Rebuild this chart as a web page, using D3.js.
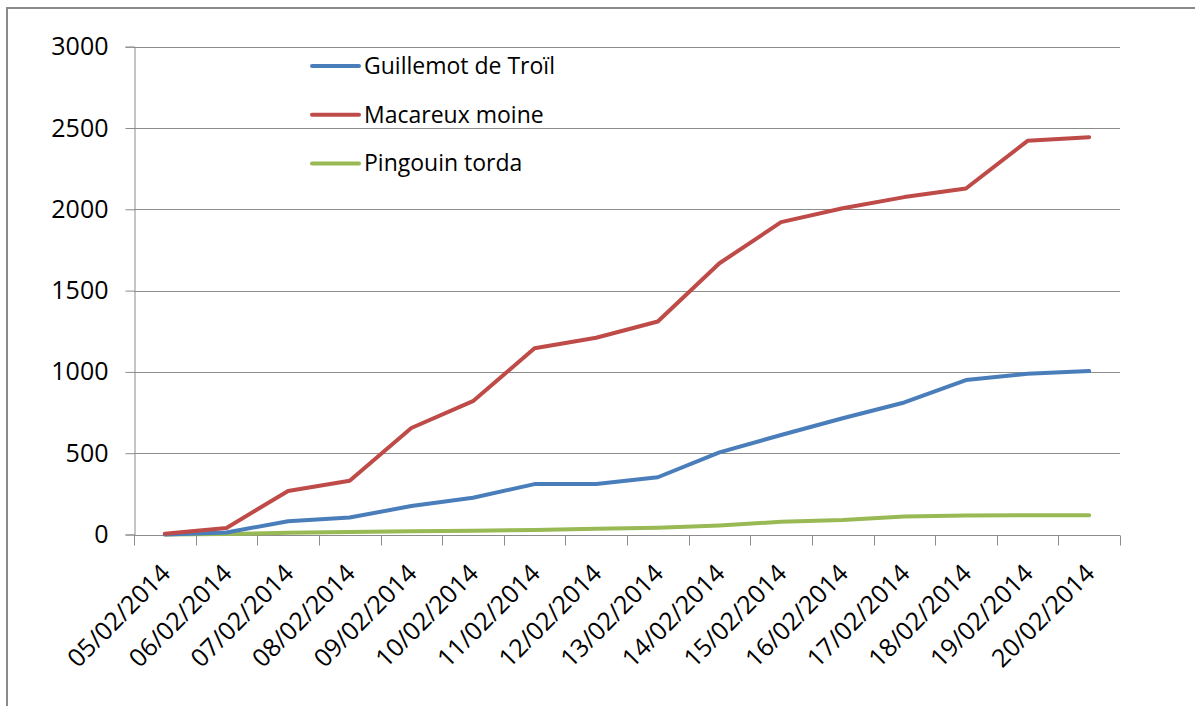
<!DOCTYPE html>
<html>
<head>
<meta charset="utf-8">
<script src="https://cdn.jsdelivr.net/npm/d3@7"></script>
<style>
  html, body { margin: 0; padding: 0; background: #fff; overflow: hidden; }
  svg { display: block; font-family: "Open Sans", sans-serif; }
</style>
</head>
<body>
<svg id="chart" width="1195" height="706"></svg>
<script>
const dates = ["05/02/2014","06/02/2014","07/02/2014","08/02/2014","09/02/2014","10/02/2014","11/02/2014","12/02/2014","13/02/2014","14/02/2014","15/02/2014","16/02/2014","17/02/2014","18/02/2014","19/02/2014","20/02/2014"];
const guillemot = [0, 12, 82, 104, 175, 226, 310, 310, 352, 505, 612, 715, 812, 950, 988, 1005];
const macareux = [5, 40, 268, 330, 655, 820, 1145, 1210, 1310, 1668, 1921, 2006, 2075, 2128, 2421, 2443];
const pingouin = [0, 3, 10, 15, 20, 23, 28, 35, 42, 56, 78, 89, 110, 117, 118, 118];
const seriesNames = ["Guillemot de Troïl", "Macareux moine", "Pingouin torda"];
const seriesColors = ["#4a7ebb", "#be4b48", "#98b954"];
const yTicks = [0, 500, 1000, 1500, 2000, 2500, 3000];

(function () {
const series = [guillemot, macareux, pingouin];
const svg = d3.select("#chart");
const W = 1195, H = 706;
const pLeft = 134, pRight = 1120, pTop = 46.7, pBottom = 534.5;
const gray = "#8c8c8c";

svg.append("rect").attr("x", 0).attr("y", 0).attr("width", W).attr("height", H).attr("fill", "#fff");
// outer frame (only left/top visible in reference)
svg.append("rect").attr("x", 7).attr("y", 8).attr("width", W + 100).attr("height", H + 100)
  .attr("fill", "none").attr("stroke", "#8a8a8a").attr("stroke-width", 2);

const x = d3.scaleBand().domain(dates).range([pLeft, pRight]).padding(0);
const y = d3.scaleLinear().domain([0, 3000]).range([pBottom, pTop]);

// gridlines
svg.append("g").selectAll("line").data(yTicks.filter(d => d > 0)).join("line")
  .attr("x1", pLeft).attr("x2", pRight)
  .attr("y1", d => Math.round(y(d)) + 0.5).attr("y2", d => Math.round(y(d)) + 0.5)
  .attr("stroke", gray).attr("stroke-width", 1);

// y axis
const yAxis = svg.append("g").attr("transform", `translate(${pLeft + 0.5},0)`)
  .call(d3.axisLeft(y).tickValues(yTicks).tickSize(9).tickPadding(17).tickFormat(d3.format("d")));
yAxis.select(".domain").attr("stroke", gray);
yAxis.selectAll(".tick line").attr("stroke", gray);
yAxis.selectAll(".tick text").attr("font-size", 25).attr("fill", "#000")
  .attr("font-family", "'Open Sans', sans-serif");

// x axis
const xAxisG = svg.append("g").attr("transform", `translate(0,${Math.round(pBottom) + 0.5})`);
xAxisG.append("line").attr("x1", pLeft).attr("x2", pRight).attr("y1", 0).attr("y2", 0)
  .attr("stroke", gray);
const boundaries = dates.map(d => x(d)).concat([pRight]);
xAxisG.selectAll("line.tk").data(boundaries).join("line").attr("class", "tk")
  .attr("x1", d => Math.round(d) + 0.5).attr("x2", d => Math.round(d) + 0.5)
  .attr("y1", 0).attr("y2", 10).attr("stroke", gray);
svg.append("g").selectAll("text").data(dates).join("text")
  .attr("transform", d => `translate(${x(d) + x.bandwidth() / 2 + 7},575) rotate(-45)`)
  .attr("text-anchor", "end").attr("font-size", 25).attr("fill", "#000")
  .text(d => d);

// lines
const line = d3.line().x((d, i) => x(dates[i]) + x.bandwidth() / 2).y(d => y(d));
[2, 0, 1].forEach(k => {
  svg.append("path").datum(series[k]).attr("d", line)
    .attr("fill", "none").attr("stroke", seriesColors[k]).attr("stroke-width", 4)
    .attr("stroke-linejoin", "round").attr("stroke-linecap", "round");
});

// legend
const leg = svg.append("g");
seriesNames.forEach((name, i) => {
  const ly = 66 + i * 48.7;
  leg.append("line").attr("x1", 312).attr("x2", 359).attr("y1", ly).attr("y2", ly)
    .attr("stroke", seriesColors[i]).attr("stroke-width", 4).attr("stroke-linecap", "round");
  leg.append("text").attr("x", 364).attr("y", ly).attr("dy", "0.35em")
    .attr("font-size", 23).attr("fill", "#000").text(name);
});
})();
</script>
</body>
</html>
